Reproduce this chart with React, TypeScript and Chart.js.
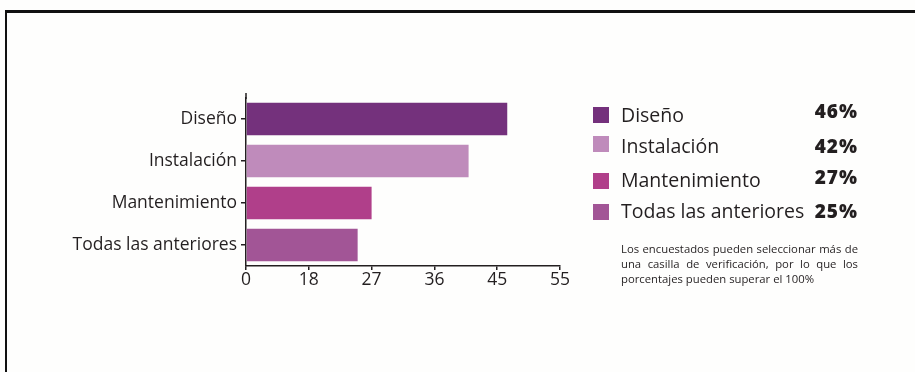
import React, { useEffect, useRef } from 'react';
import { Chart, registerables, LinearScale } from 'chart.js';

// ---- data ----
const categories = ['Diseño', 'Instalación', 'Mantenimiento', 'Todas las anteriores'];
const barValues = [46.6, 40.9, 27, 25];
const legendLabels = ['Diseño', 'Instalación', 'Mantenimiento', 'Todas las anteriores'];
const legendPercents = ['46%', '42%', '27%', '25%'];
const xTickValues = [0, 18, 27, 36, 45, 55];
const barColors = ['#74317c', '#bf8bbb', '#b03f8a', '#a25596'];
const noteText =
  'Los encuestados pueden seleccionar más de una casilla de verificación, por lo que los porcentajes pueden superar el 100%';

// ---- styling / layout ----
const INK = '#231f20';
const FAMILY = "'Open Sans', 'Noto Sans', sans-serif";
const W = 915;
const H = 372;

// piecewise mapping: tick values are evenly spaced on the axis
function toFraction(v: number): number {
  const t = xTickValues;
  const n = t.length - 1;
  if (v <= t[0]) return (v - t[0]) / (t[1] - t[0]) / n;
  for (let i = 0; i < n; i++) {
    if (v <= t[i + 1]) return (i + (v - t[i]) / (t[i + 1] - t[i])) / n;
  }
  return (n + (v - t[n]) / (t[n] - t[n - 1])) / n;
}
function fromFraction(f: number): number {
  const t = xTickValues;
  const n = t.length - 1;
  const p = f * n;
  const i = Math.max(0, Math.min(n - 1, Math.floor(p)));
  return t[i] + (p - i) * (t[i + 1] - t[i]);
}

class PiecewiseScale extends LinearScale {
  static id = 'piecewise';
  static defaults = { ...(LinearScale as any).defaults };
  buildTicks() {
    return xTickValues.map((value) => ({ value }));
  }
  getPixelForValue(value: any) {
    if (value === null || value === undefined || isNaN(value)) return NaN;
    return this.getPixelForDecimal(toFraction(+value));
  }
  getValueForPixel(pixel: number) {
    return fromFraction(this.getDecimalForPixel(pixel));
  }
}

Chart.register(...registerables, PiecewiseScale as any);

const axisExtension = {
  id: 'axisExtension',
  afterDraw(chart: any) {
    const { ctx, chartArea } = chart;
    ctx.save();
    ctx.strokeStyle = INK;
    ctx.lineWidth = 1.5;
    ctx.beginPath();
    ctx.moveTo(chartArea.left, 93);
    ctx.lineTo(chartArea.left, chartArea.top + 1);
    ctx.stroke();
    ctx.restore();
  },
};

function BaselineText(props: {
  text: string;
  size: number;
  baseline: number;
  left?: number;
  right?: number;
  bold?: boolean;
  spacing?: number;
}) {
  const { text, size, baseline, left, right, bold, spacing } = props;
  const style: React.CSSProperties = {
    position: 'absolute',
    top: baseline - 0.888 * size,
    fontFamily: FAMILY,
    fontSize: size,
    lineHeight: `${size}px`,
    fontWeight: bold ? 800 : 400,
    color: INK,
    whiteSpace: 'nowrap',
    letterSpacing: spacing ? `${spacing}px` : undefined,
  };
  if (left !== undefined) style.left = left;
  if (right !== undefined) style.right = right;
  return <div style={style}>{text}</div>;
}

export default function App() {
  const canvasRef = useRef<HTMLCanvasElement | null>(null);

  useEffect(() => {
    const canvas = canvasRef.current;
    if (!canvas) return;
    const chart = new Chart(canvas, {
      type: 'bar',
      data: {
        labels: categories,
        datasets: [
          {
            data: barValues,
            backgroundColor: barColors,
            borderWidth: 0,
            barPercentage: 0.774,
            categoryPercentage: 1,
          },
        ],
      },
      options: {
        indexAxis: 'y',
        animation: false,
        responsive: false,
        devicePixelRatio: 1,
        layout: { padding: { top: 98, left: 0, right: W - 560, bottom: 0 } },
        plugins: { legend: { display: false }, tooltip: { enabled: false } },
        scales: {
          x: {
            type: 'piecewise' as any,
            min: 0,
            max: 55,
            grid: {
              display: true,
              drawOnChartArea: false,
              drawTicks: true,
              tickLength: 4,
              color: INK,
              lineWidth: 1.5,
            },
            border: { display: true, color: INK, width: 1.5 },
            ticks: {
              autoSkip: false,
              maxRotation: 0,
              padding: 0,
              color: INK,
              font: { family: FAMILY, size: 17.5 },
            },
            afterFit: (s: any) => {
              s.height = H - 266;
            },
          } as any,
          y: {
            grid: {
              display: true,
              offset: false,
              drawOnChartArea: false,
              drawTicks: true,
              tickLength: 5,
              color: INK,
              lineWidth: 1.5,
            },
            border: { display: true, color: INK, width: 1.5 },
            ticks: {
              padding: 4,
              color: INK,
              font: { family: FAMILY, size: 17.5 },
            },
            afterFit: (s: any) => {
              s.width = 246;
            },
          },
        },
      },
      plugins: [axisExtension],
    });
    return () => chart.destroy();
  }, []);

  const labelBaselines = [122.3, 153.3, 187.7, 218.3];
  const pctBaselines = [119, 153.8, 184.8, 218.8];
  const swatchTops = [106.7, 136, 173.3, 204];

  return (
    <div
      style={{
        position: 'absolute',
        left: 0,
        top: 0,
        width: W,
        height: H,
        overflow: 'hidden',
        background: '#fefefd',
      }}
    >
      <div
        style={{
          position: 'absolute',
          left: 5,
          top: 10,
          width: W + 20,
          height: H + 20,
          borderTop: '3px solid #111',
          borderLeft: '2.5px solid #111',
        }}
      />
      <canvas
        ref={canvasRef}
        width={W}
        height={H}
        style={{ position: 'absolute', left: 0, top: 0, width: W, height: H }}
      />
      {legendLabels.map((lab, i) => (
        <React.Fragment key={lab}>
          <div
            style={{
              position: 'absolute',
              left: 593,
              top: swatchTops[i],
              width: 16,
              height: 16,
              background: barColors[i],
            }}
          />
          <BaselineText text={lab} size={19.5} baseline={labelBaselines[i]} left={621} />
          <BaselineText
            text={legendPercents[i]}
            size={19}
            baseline={pctBaselines[i]}
            right={W - 857 - 1}
            bold
            spacing={1}
          />
        </React.Fragment>
      ))}
      <div
        style={{
          position: 'absolute',
          left: 621,
          top: 241,
          width: 237,
          fontFamily: FAMILY,
          fontSize: 11.3,
          lineHeight: '15px',
          color: INK,
          textAlign: 'justify',
          textAlignLast: 'left',
        }}
      >
        {noteText}
      </div>
    </div>
  );
}
